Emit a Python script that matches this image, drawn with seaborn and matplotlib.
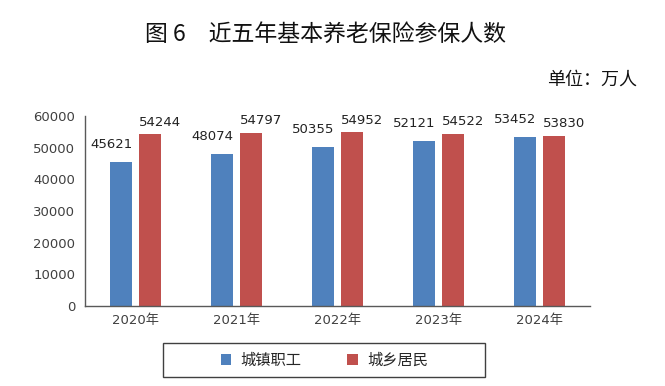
import pandas as pd
import matplotlib.pyplot as plt
import seaborn as sns
from matplotlib.patches import Rectangle

# 数据
years = ['2020年', '2021年', '2022年', '2023年', '2024年']
urban_workers = [45621, 48074, 50355, 52121, 53452]
urban_rural = [54244, 54797, 54952, 54522, 53830]
series_names = ['城镇职工', '城乡居民']
yticks = [0, 10000, 20000, 30000, 40000, 50000, 60000]

df = pd.DataFrame({
    '年份': years * 2,
    '人数': urban_workers + urban_rural,
    '类型': [series_names[0]] * len(years) + [series_names[1]] * len(years),
})

sns.set_theme(style="white")
plt.rcParams['font.family'] = ['DejaVu Sans', 'Noto Sans CJK SC']

fig = plt.figure(figsize=(6.65, 3.86), dpi=100)
ax = fig.add_axes([0.128, 0.207, 0.759, 0.492])

sns.barplot(data=df, x='年份', y='人数', hue='类型', palette=['#4F81BD', '#C0504D'],
            width=0.58, gap=0.24, saturation=1, linewidth=0, ax=ax)

ax.set_ylim(0, 60000)
ax.set_xlim(-0.5, 4.5)
ax.set_yticks(yticks)
ax.set_xlabel('')
ax.set_ylabel('')
ax.tick_params(axis='both', length=0, labelsize=9.5, colors='#404040')
ax.tick_params(axis='y', pad=7)
ax.tick_params(axis='x', pad=6)
sns.despine(ax=ax)
for s in ['left', 'bottom']:
    ax.spines[s].set_color('#595959')
    ax.spines[s].set_linewidth(1)

# 数据标签
for container, dx, dy in zip(ax.containers, [-7, 7], [8, 4]):
    for bar in container:
        h = bar.get_height()
        ax.annotate(f"{h:.0f}", (bar.get_x() + bar.get_width() / 2, h),
                    xytext=(dx, dy), textcoords='offset points',
                    ha='center', va='bottom', fontsize=9.5, color='#222222')

# 图例
handles, labels = ax.get_legend_handles_labels()
ax.legend_.remove()
fig.legend(handles, labels, loc='center', bbox_to_anchor=(0.488, 0.067), ncol=2,
           frameon=False, handlelength=0.7, handleheight=0.7, handletextpad=0.6,
           columnspacing=3.0, prop={'family': ['Noto Sans CJK SC'], 'size': 11})
fig.patches.append(Rectangle((163 / 665, 1 - 377 / 386), 322 / 665, 34 / 386,
                             transform=fig.transFigure, fill=False,
                             edgecolor='#404040', linewidth=1))

# 标题和单位
fig.text(0.49, 0.91, '图 6\u3000近五年基本养老保险参保人数', ha='center', va='center',
         fontsize=16.5, family=['Noto Sans CJK SC'], color='#111111')
fig.text(0.958, 0.793, '单位：万人', ha='right', va='center',
         fontsize=13, family=['Noto Sans CJK SC'], color='#111111')

fig.savefig('out.png', dpi=100)
